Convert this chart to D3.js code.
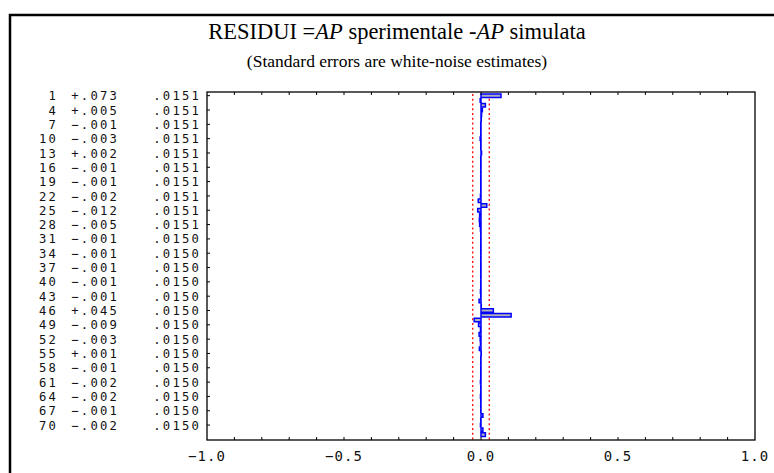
<!DOCTYPE html>
<html>
<head>
<meta charset="utf-8">
<script src="https://cdn.jsdelivr.net/npm/d3@7/dist/d3.min.js"></script>
<style>
body { margin: 0; background: #fff; }
.mono { font-family: "DejaVu Sans Mono", monospace; font-size: 14px; letter-spacing: 1.1px; fill: #111; }
.rows { font-size: 12.2px; letter-spacing: 2.2px; }
</style>
</head>
<body>
<div id="chart"></div>
<script>
// autocorrelation of residuals, lags 1..72
var lags = d3.range(1, 73);
var acf = [
   0.073, -0.003,  0.016,  0.005,  0.002,  0.001, -0.001, -0.001, -0.001, -0.003,
  -0.001, -0.001,  0.002, -0.001, -0.001, -0.001, -0.001, -0.001, -0.001, -0.001,
  -0.001, -0.002, -0.010,  0.021, -0.012, -0.005, -0.006, -0.005, -0.002, -0.001,
  -0.001, -0.001, -0.001, -0.001, -0.001, -0.001, -0.001, -0.001, -0.001, -0.001,
  -0.001, -0.002, -0.001, -0.007,  0.001,  0.045,  0.110, -0.025, -0.009, -0.002,
  -0.007, -0.003, -0.002, -0.006,  0.001, -0.001, -0.001, -0.001, -0.001, -0.001,
  -0.002, -0.001, -0.001, -0.002, -0.001, -0.001, -0.001,  0.007, -0.001, -0.002,
   0.007,  0.016
];
// lags shown in the text columns and their standard errors
var labelLags = d3.range(1, 71, 3);
var seValues = [
  0.0151, 0.0151, 0.0151, 0.0151, 0.0151, 0.0151, 0.0151, 0.0151, 0.0151, 0.0151,
  0.0150, 0.0150, 0.0150, 0.0150, 0.0150, 0.0150, 0.0150, 0.0150, 0.0150, 0.0150,
  0.0150, 0.0150, 0.0150, 0.0150
];
var confSE = 0.0151;
var xTicks = [-1, -0.5, 0, 0.5, 1];
var xTickLabels = ["\u22121.0", "\u22120.5", "0.0", "0.5", "1.0"];

var w = 774, h = 473;
var boxLeft = 207, boxRight = 755, boxTop = 92, boxBottom = 440;

var svg = d3.select("#chart").append("svg")
  .attr("width", w)
  .attr("height", h);

// outer frame
svg.append("rect")
  .attr("x", 10).attr("y", 15)
  .attr("width", 800).attr("height", 500)
  .attr("fill", "none")
  .attr("stroke", "#000")
  .attr("stroke-width", 2.5);

// titles
var title = svg.append("text")
  .attr("x", 397).attr("y", 39)
  .attr("text-anchor", "middle")
  .style("font-family", "'Liberation Serif', 'Times New Roman', serif")
  .style("font-size", "22.5px");
title.append("tspan").text("RESIDUI =");
title.append("tspan").style("font-style", "italic").text("AP");
title.append("tspan").text(" sperimentale -");
title.append("tspan").style("font-style", "italic").text("AP");
title.append("tspan").text(" simulata");

svg.append("text")
  .attr("x", 397).attr("y", 67)
  .attr("text-anchor", "middle")
  .style("font-family", "'Liberation Serif', 'Times New Roman', serif")
  .style("font-size", "17.5px")
  .text("(Standard errors are white-noise estimates)");

// scales
var xScale = d3.scaleLinear().domain([-1, 1]).range([boxLeft, boxRight]);
var yScale = d3.scaleLinear().domain([0.5, 72.5]).range([93.3, 437]);
var band = yScale(2) - yScale(1);

function fmt(v) {
  return (v >= 0 ? "+" : "\u2212") + Math.abs(v).toFixed(3).slice(1);
}

// text columns
function textColumn(xRight, accessor) {
  svg.append("g").selectAll("text")
    .data(labelLags)
    .enter().append("text")
    .attr("class", "mono rows")
    .attr("text-anchor", "end")
    .attr("x", xRight + 1)
    .attr("y", function(d) { return yScale(d) + 4.6; })
    .text(accessor);
}
textColumn(57, function(d) { return d; });
textColumn(118, function(d) { return fmt(acf[d - 1]); });
textColumn(200, function(d, i) { return seValues[i].toFixed(4).slice(1); });

// confidence limits (2 * SE)
[-2 * confSE, 2 * confSE].forEach(function(c) {
  svg.append("line")
    .attr("x1", xScale(c)).attr("x2", xScale(c))
    .attr("y1", boxTop + 2).attr("y2", boxBottom)
    .attr("stroke", "#ff0000")
    .attr("stroke-width", 1.3)
    .attr("stroke-dasharray", "2,2.77");
});

// bars
svg.append("g").selectAll("path")
  .data(lags)
  .enter().append("path")
  .attr("d", function(d) {
    var x0 = xScale(0), x1 = xScale(acf[d - 1]);
    var y0 = yScale(d) - band / 2 + 0.6, y1 = yScale(d) + band / 2 - 0.6;
    return "M" + x0 + "," + y0 + "H" + x1 + "V" + y1 + "H" + x0 + "Z";
  })
  .attr("fill", "#b0b0b8")
  .attr("stroke", "#0000ff")
  .attr("stroke-width", 1.5);

// plot box
svg.append("rect")
  .attr("x", boxLeft).attr("y", boxTop)
  .attr("width", boxRight - boxLeft).attr("height", boxBottom - boxTop)
  .attr("fill", "none")
  .attr("stroke", "#000")
  .attr("stroke-width", 1.3);

// minor ticks on top and bottom
var minor = d3.range(-9, 10).map(function(d) { return d / 10; });
svg.append("g").selectAll("line")
  .data(minor).enter().append("line")
  .attr("x1", function(d) { return xScale(d); })
  .attr("x2", function(d) { return xScale(d); })
  .attr("y1", boxBottom).attr("y2", boxBottom - 3)
  .attr("stroke", "#000");
svg.append("g").selectAll("line")
  .data(minor).enter().append("line")
  .attr("x1", function(d) { return xScale(d); })
  .attr("x2", function(d) { return xScale(d); })
  .attr("y1", boxTop).attr("y2", boxTop + 3)
  .attr("stroke", "#000");

// ticks on left axis at label rows
svg.append("g").selectAll("line")
  .data(labelLags).enter().append("line")
  .attr("x1", boxLeft).attr("x2", boxLeft + 3)
  .attr("y1", function(d) { return yScale(d); })
  .attr("y2", function(d) { return yScale(d); })
  .attr("stroke", "#000");

// x tick labels
svg.append("g").selectAll("text")
  .data(xTicks).enter().append("text")
  .attr("class", "mono")
  .attr("x", function(d) { return xScale(d); })
  .attr("y", 461)
  .attr("text-anchor", "middle")
  .text(function(d, i) { return xTickLabels[i]; });
</script>
</body>
</html>
